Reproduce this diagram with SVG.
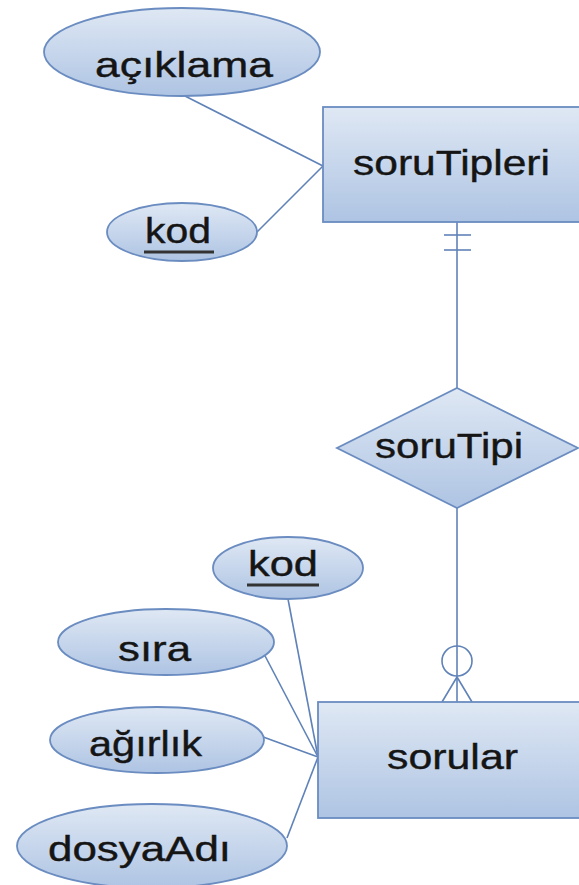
<svg xmlns="http://www.w3.org/2000/svg" width="579" height="885" viewBox="0 0 579 885">
<defs>
<linearGradient id="g" x1="0" y1="0" x2="0" y2="1">
<stop offset="0" stop-color="#dfe8f4"/>
<stop offset="1" stop-color="#aec4e3"/>
</linearGradient>
<style>
.shape{fill:url(#g);stroke:#6a8cc0;stroke-width:1.8}
.t{font-family:"Liberation Sans",Arial,sans-serif;font-size:35px;fill:#151515;stroke:#151515;stroke-width:0.4;text-anchor:start}
.ln{stroke:#5f82b8;stroke-width:1.6;fill:none}
.ul{stroke:#333;stroke-width:3}
</style>
</defs>
<rect width="579" height="885" fill="#fff"/>
<g id="connectors">
<line class="ln" x1="183" y1="95" x2="323" y2="166"/>
<line class="ln" x1="257" y1="232" x2="323" y2="166"/>
<line class="ln" x1="457" y1="222" x2="457" y2="388"/>
<line class="ln" x1="444" y1="235" x2="471" y2="235"/>
<line class="ln" x1="444" y1="250" x2="471" y2="250"/>
<line class="ln" x1="457" y1="508" x2="457" y2="702"/>
<circle class="ln" cx="457" cy="661" r="15" fill="#fff"/>
<line class="ln" x1="457" y1="677" x2="442" y2="702"/>
<line class="ln" x1="457" y1="677" x2="472" y2="702"/>
<line class="ln" x1="288" y1="599" x2="318" y2="757"/>
<line class="ln" x1="263" y1="652" x2="318" y2="757"/>
<line class="ln" x1="255" y1="734" x2="318" y2="757"/>
<line class="ln" x1="287" y1="838" x2="318" y2="757"/>
</g>
<g id="aciklama">
<ellipse class="shape" cx="182" cy="52" rx="138" ry="44"/>
<text class="t" x="95" y="77" textLength="178" lengthAdjust="spacingAndGlyphs">açıklama</text>
</g>
<g id="kod1">
<ellipse class="shape" cx="182" cy="232" rx="75" ry="29"/>
<text class="t" x="145" y="243" textLength="66" lengthAdjust="spacingAndGlyphs">kod</text>
<line class="ul" x1="144" y1="252" x2="214" y2="252"/>
</g>
<g id="soruTipleri">
<rect class="shape" x="323" y="107" width="290" height="115"/>
<text class="t" x="353" y="175" textLength="197" lengthAdjust="spacingAndGlyphs">soruTipleri</text>
</g>
<g id="soruTipi">
<polygon class="shape" points="457,388 578,448 457,508 337,448"/>
<text class="t" x="375" y="458" textLength="148" lengthAdjust="spacingAndGlyphs">soruTipi</text>
</g>
<g id="kod2">
<ellipse class="shape" cx="288" cy="568" rx="75" ry="31"/>
<text class="t" x="248" y="576" textLength="70" lengthAdjust="spacingAndGlyphs">kod</text>
<line class="ul" x1="247" y1="585" x2="319" y2="585"/>
</g>
<g id="sira">
<ellipse class="shape" cx="166" cy="642" rx="108" ry="33"/>
<text class="t" x="118" y="661" textLength="73" lengthAdjust="spacingAndGlyphs">sıra</text>
</g>
<g id="agirlik">
<ellipse class="shape" cx="157" cy="740" rx="107" ry="33"/>
<text class="t" x="89" y="756" textLength="113" lengthAdjust="spacingAndGlyphs">ağırlık</text>
</g>
<g id="dosyaAdi">
<ellipse class="shape" cx="152" cy="846" rx="135" ry="42"/>
<text class="t" x="48" y="861" textLength="183" lengthAdjust="spacingAndGlyphs">dosyaAdı</text>
</g>
<g id="sorular">
<rect class="shape" x="318" y="702" width="290" height="116"/>
<text class="t" x="387" y="769" textLength="131" lengthAdjust="spacingAndGlyphs">sorular</text>
</g>
</svg>
